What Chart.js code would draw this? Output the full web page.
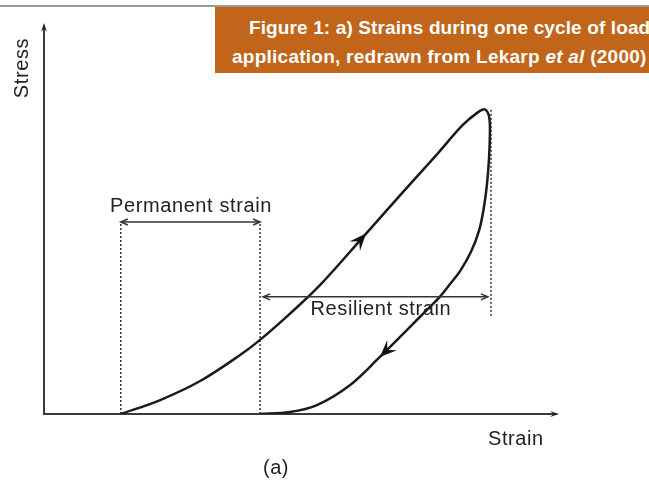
<!DOCTYPE html>
<html>
<head>
<meta charset="utf-8">
<script src="https://cdn.jsdelivr.net/npm/chart.js@4.4.1/dist/chart.umd.min.js"></script>
<style>
  html, body { margin: 0; padding: 0; background: #fff; }
  #wrap { position: relative; width: 649px; height: 491px; overflow: hidden; background: #fff; }
  #c { position: absolute; left: 0; top: 0; }
  .rule { position: absolute; left: 0; top: 5px; width: 649px; height: 2px; background: #9a9a9a; }
  .banner { position: absolute; left: 215px; top: 7px; width: 460px; height: 66px; background: #c0651a; }
  .banner span {
    position: absolute; white-space: nowrap; color: #fff;
    font: bold 19px/19px "Liberation Sans", Arial, sans-serif;
    letter-spacing: 0.25px;
  }
</style>
</head>
<body>
<div id="wrap">
  <canvas id="c" width="649" height="491"></canvas>
  <div class="rule"></div>
  <div class="banner">
    <span style="left:34px; top:11px; letter-spacing:0.12px">Figure 1: a) Strains during one cycle of load</span>
    <span style="left:17px; top:40px">application, redrawn from Lekarp <i>et al</i> (2000)</span>
  </div>
</div>
<script>
// loading branch (strain, stress) in arbitrary units 0..100
const loadStrain = [15.0, 22.7, 30.5, 38.3, 42.2, 48.0, 53.9, 62.3, 70.1, 76.8, 81.8, 84.8, 86.1];
const loadStress = [0.0, 3.6, 8.5, 15.2, 19.1, 25.8, 33.2, 45.6, 57.2, 67.0, 74.5, 77.8, 78.5];

// unloading branch
const unloadStrain = [86.9, 87.1, 86.9, 86.5, 85.9, 85.0, 83.4, 81.3, 79.3, 77.3, 73.4, 69.5, 65.6, 59.8, 53.3, 48.0, 42.2];
const unloadStress = [76.8, 73.2, 65.5, 59.0, 53.1, 47.4, 41.8, 36.9, 33.5, 30.2, 25.0, 19.8, 14.7, 7.5, 2.3, 0.5, 0.0];

// direction arrows on the curve (angle clockwise from up, degrees)
const arrowStrain = [62.9, 65.6];
const arrowStress = [46.5, 14.7];
const arrowAngle = [41.8, 226];

// dotted guide lines: strain position, stress from / to
const guideStrain = [15.0, 42.2, 87.3];
const guideFrom = [0, 0, 25.3];
const guideTo = [49.5, 49.5, 78.4];

// dimension arrows with labels
const dimLabels = ['Permanent strain', 'Resilient strain'];
const dimFrom = [15.0, 42.8];
const dimTo = [42.2, 86.7];
const dimStress = [49.5, 30.2];
const dimLabelStrain = [28.7, 65.8];
const dimLabelStress = [52.1, 25.5];

const axisLabels = { y: 'Stress', x: 'Strain', caption: '(a)' };

const loopData = loadStrain.map((x, i) => ({x, y: loadStress[i]}))
    .concat(unloadStrain.map((x, i) => ({x, y: unloadStress[i]})));

const guideSets = guideStrain.map((x, i) => ({
    data: [{x, y: guideFrom[i]}, {x, y: guideTo[i]}],
    showLine: true,
    borderColor: '#333',
    borderWidth: 1.5,
    borderDash: [2, 2],
    pointRadius: 0
}));

const LABEL_FONT = '20px "Liberation Sans", Arial, sans-serif';
const INK = '#222';

function barbedArrow(ctx, x, y, deg, len, half) {
    const a = deg * Math.PI / 180;
    const dx = Math.sin(a), dy = -Math.cos(a);
    const px = -dy, py = dx;
    ctx.beginPath();
    ctx.moveTo(x, y);
    ctx.lineTo(x - len * dx + half * px, y - len * dy + half * py);
    ctx.lineTo(x - 0.6 * len * dx, y - 0.6 * len * dy);
    ctx.lineTo(x - len * dx - half * px, y - len * dy - half * py);
    ctx.closePath();
    ctx.fill();
}

function openHead(ctx, x, y, dir) {
    ctx.beginPath();
    ctx.moveTo(x - dir * 7, y - 3);
    ctx.lineTo(x, y);
    ctx.lineTo(x - dir * 7, y + 3);
    ctx.stroke();
}

const annotate = {
    id: 'annotate',
    afterDatasetsDraw(chart) {
        const ctx = chart.ctx;
        const xs = chart.scales.x, ys = chart.scales.y;
        const area = chart.chartArea;
        ctx.save();
        ctx.fillStyle = INK;
        ctx.strokeStyle = '#333';

        // axis arrow tips
        barbedArrow(ctx, area.left, area.top - 3, 0, 9, 3);
        barbedArrow(ctx, area.right + 3, area.bottom, 90, 9, 3);

        // arrows on the loop
        ctx.fillStyle = '#111';
        arrowStrain.forEach((s, i) => {
            barbedArrow(ctx, xs.getPixelForValue(s), ys.getPixelForValue(arrowStress[i]), arrowAngle[i], 17, 7);
        });

        // dimension lines
        ctx.lineWidth = 1.5;
        dimLabels.forEach((lab, i) => {
            const x1 = xs.getPixelForValue(dimFrom[i]);
            const x2 = xs.getPixelForValue(dimTo[i]);
            const y = ys.getPixelForValue(dimStress[i]);
            ctx.beginPath();
            ctx.moveTo(x1, y);
            ctx.lineTo(x2, y);
            ctx.stroke();
            openHead(ctx, x1, y, -1);
            openHead(ctx, x2, y, 1);
        });

        // labels
        ctx.fillStyle = INK;
        ctx.font = LABEL_FONT;
        ctx.letterSpacing = '0.6px';
        ctx.textAlign = 'center';
        ctx.textBaseline = 'alphabetic';
        dimLabels.forEach((lab, i) => {
            ctx.fillText(lab, xs.getPixelForValue(dimLabelStrain[i]), ys.getPixelForValue(dimLabelStress[i]));
        });

        ctx.textAlign = 'left';
        ctx.fillText(axisLabels.x, area.right - 68, area.bottom + 31);
        ctx.textAlign = 'center';
        ctx.fillText(axisLabels.caption, (area.left + area.right) / 2 - 24, area.bottom + 60);

        ctx.save();
        ctx.translate(area.left - 22, area.top + 42);
        ctx.rotate(-Math.PI / 2);
        ctx.textBaseline = 'middle';
        ctx.fillText(axisLabels.y, 0, 0);
        ctx.restore();

        ctx.restore();
    }
};

new Chart(document.getElementById('c'), {
    type: 'scatter',
    data: {
        datasets: [{
            data: loopData,
            showLine: true,
            tension: 0.35,
            borderColor: '#1a1a1a',
            borderWidth: 2.5,
            pointRadius: 0
        }].concat(guideSets)
    },
    options: {
        responsive: false,
        animation: false,
        layout: { padding: { left: 44, top: 26, right: 93, bottom: 77 } },
        plugins: { legend: { display: false }, tooltip: { enabled: false } },
        scales: {
            x: {
                type: 'linear', min: 0, max: 100,
                grid: { display: false, drawTicks: false },
                ticks: { display: false },
                border: { display: true, color: '#3a3a3a', width: 2 },
                afterFit(s) { s.height = 0; }
            },
            y: {
                type: 'linear', min: 0, max: 100,
                grid: { display: false, drawTicks: false },
                ticks: { display: false },
                border: { display: true, color: '#3a3a3a', width: 2 },
                afterFit(s) { s.width = 0; }
            }
        }
    },
    plugins: [annotate]
});
</script>
</body>
</html>
